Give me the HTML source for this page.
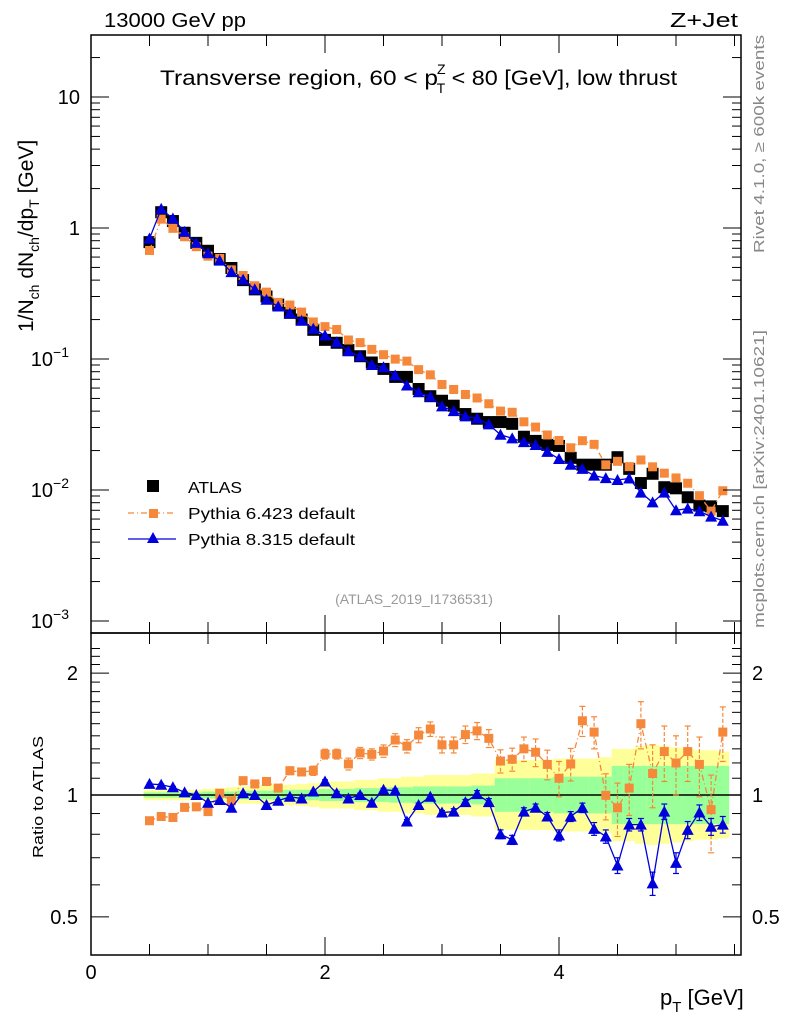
<!DOCTYPE html>
<html><head><meta charset="utf-8">
<style>
html,body{margin:0;padding:0;background:#fff;}
svg{display:block;font-family:"Liberation Sans","DejaVu Sans",sans-serif;}
</style></head>
<body>
<svg id="chart" width="786" height="1024" viewBox="0 0 786 1024" xmlns="http://www.w3.org/2000/svg">
<rect x="0" y="0" width="786" height="1024" fill="#fff"/>
<g id="ratio-bands"></g>
<g id="main-marks"></g>
<g id="ratio-marks"></g>
<g id="axes"></g>
<text x="104" y="27" font-size="20" textLength="142" lengthAdjust="spacingAndGlyphs">13000 GeV pp</text>
<text x="670" y="27" font-size="20" textLength="68" lengthAdjust="spacingAndGlyphs">Z+Jet</text>
<text x="160" y="85" font-size="21"><tspan textLength="278" lengthAdjust="spacingAndGlyphs">Transverse region, 60 &lt; p</tspan><tspan font-size="14" dx="-1" dy="-11">Z</tspan><tspan font-size="14" dx="-9" dy="19">T</tspan><tspan dy="-8" textLength="232" lengthAdjust="spacingAndGlyphs"> &lt; 80 [GeV], low thrust</tspan></text>
<text transform="translate(33,332) rotate(-90)" font-size="21">1/N<tspan font-size="14" dy="6">ch</tspan><tspan dy="-6"> dN</tspan><tspan font-size="14" dy="6">ch</tspan><tspan dy="-6">/dp</tspan><tspan font-size="14" dy="6">T</tspan><tspan dy="-6"> [GeV]</tspan></text>
<text transform="translate(43,858) rotate(-90)" font-size="15" textLength="122" lengthAdjust="spacingAndGlyphs">Ratio to ATLAS</text>
<text x="660" y="1005" font-size="22">p<tspan font-size="15" dy="7">T</tspan><tspan dy="-7"> [GeV]</tspan></text>
<text transform="translate(764,253) rotate(-90)" font-size="15" fill="#888" textLength="218" lengthAdjust="spacingAndGlyphs">Rivet 4.1.0, ≥ 600k events</text>
<text transform="translate(764,628) rotate(-90)" font-size="15" fill="#888" textLength="298" lengthAdjust="spacingAndGlyphs">mcplots.cern.ch [arXiv:2401.10621]</text>
<text x="414" y="604" font-size="14" fill="#999" text-anchor="middle">(ATLAS_2019_I1736531)</text>
<g id="legend">
  <rect x="147" y="480" width="12" height="12" fill="#000"/>
  <text x="188" y="493" font-size="16" textLength="54" lengthAdjust="spacingAndGlyphs">ATLAS</text>
  <line x1="128" y1="513" x2="176" y2="513" stroke="#f5883a" stroke-width="1.3" stroke-dasharray="6,3,1,3"/>
  <rect x="149" y="509" width="9" height="9" fill="#f5883a"/>
  <text x="188" y="519" font-size="16" textLength="167" lengthAdjust="spacingAndGlyphs">Pythia 6.423 default</text>
  <line x1="128" y1="539" x2="176" y2="539" stroke="#0000dd" stroke-width="1.3"/>
  <polygon points="153,532 159,543 147,543" fill="#0000dd"/>
  <text x="188" y="545" font-size="16" textLength="167" lengthAdjust="spacingAndGlyphs">Pythia 8.315 default</text>
</g>
</svg>
<script>
const xVals = [0.5,0.6,0.7,0.8,0.9,1.0,1.1,1.2,1.3,1.4,1.5,1.6,1.7,1.8,1.9,2.0,2.1,2.2,2.3,2.4,2.5,2.6,2.7,2.8,2.9,3.0,3.1,3.2,3.3,3.4,3.5,3.6,3.7,3.8,3.9,4.0,4.1,4.2,4.3,4.4,4.5,4.6,4.7,4.8,4.9,5.0,5.1,5.2,5.3,5.4];
const atlasVals = [0.78,1.32,1.13,0.92,0.77,0.67,0.58,0.495,0.40,0.34,0.30,0.26,0.225,0.20,0.167,0.14,0.133,0.117,0.105,0.094,0.084,0.073,0.073,0.059,0.052,0.048,0.044,0.038,0.035,0.033,0.033,0.032,0.0255,0.0237,0.0221,0.0217,0.0176,0.0156,0.0156,0.0156,0.0178,0.0145,0.0113,0.0133,0.0105,0.0103,0.0088,0.0076,0.0075,0.0069];
const py6Ratio = [0.864,0.885,0.88,0.932,0.935,0.91,1.01,0.968,1.085,1.065,1.08,1.04,1.148,1.14,1.148,1.262,1.262,1.193,1.27,1.26,1.284,1.367,1.32,1.406,1.455,1.33,1.33,1.41,1.44,1.38,1.213,1.225,1.30,1.275,1.19,1.10,1.193,1.525,1.43,0.998,0.93,1.04,1.50,1.13,1.28,1.20,1.28,1.19,0.92,1.43];
const py8Ratio = [1.065,1.06,1.045,1.015,1.0,0.957,0.972,0.93,1.01,1.0,0.945,0.968,0.99,0.98,1.02,1.08,1.01,0.98,1.0,0.957,1.03,1.025,0.86,0.945,0.99,0.905,0.91,0.96,1.005,0.96,0.80,0.775,0.91,0.93,0.885,0.795,0.885,0.93,0.825,0.79,0.67,0.845,0.845,0.605,0.91,0.68,0.82,0.905,0.835,0.845];
const statBand = [0.015,0.015,0.015,0.015,0.015,0.02,0.02,0.02,0.025,0.025,0.025,0.03,0.03,0.03,0.03,0.035,0.035,0.035,0.04,0.04,0.04,0.045,0.045,0.05,0.05,0.05,0.05,0.05,0.055,0.055,0.1,0.1,0.1,0.1,0.1,0.11,0.11,0.11,0.11,0.11,0.18,0.18,0.18,0.18,0.18,0.18,0.18,0.18,0.18,0.18];
const totBand = [0.03,0.03,0.03,0.03,0.03,0.035,0.04,0.045,0.05,0.05,0.06,0.06,0.06,0.065,0.07,0.08,0.08,0.08,0.09,0.09,0.1,0.1,0.11,0.11,0.12,0.12,0.12,0.12,0.13,0.13,0.22,0.22,0.22,0.22,0.22,0.23,0.23,0.23,0.23,0.24,0.3,0.3,0.32,0.33,0.32,0.31,0.3,0.29,0.29,0.28];
const py6Err = [0.01,0.01,0.01,0.01,0.01,0.01,0.01,0.015,0.02,0.02,0.02,0.02,0.025,0.025,0.03,0.035,0.035,0.04,0.04,0.04,0.045,0.05,0.05,0.06,0.06,0.06,0.06,0.07,0.07,0.07,0.08,0.08,0.09,0.1,0.1,0.11,0.11,0.13,0.13,0.13,0.14,0.15,0.2,0.2,0.2,0.2,0.2,0.2,0.2,0.22];
const py8Err = [0.005,0.005,0.005,0.005,0.005,0.005,0.005,0.005,0.005,0.005,0.005,0.005,0.005,0.005,0.005,0.01,0.01,0.01,0.01,0.01,0.01,0.01,0.01,0.01,0.01,0.01,0.015,0.015,0.02,0.02,0.02,0.02,0.02,0.02,0.02,0.025,0.025,0.025,0.03,0.03,0.03,0.03,0.03,0.04,0.04,0.04,0.04,0.04,0.04,0.04];
const xTicks = [0,2,4];
const ratioTicks = [0.5,1,2];

const NS='http://www.w3.org/2000/svg';
const L=91,R=741,T=35,MB=633,RB=955;
const xs=v=>L+v*117;
const ym=v=>228-131*Math.log10(v);
const yr=v=>795-405*Math.log10(v);
function mk(tag,attrs,parent){const e=document.createElementNS(NS,tag);for(const k in attrs)e.setAttribute(k,attrs[k]);parent.appendChild(e);return e;}
const gB=document.getElementById('ratio-bands'),gM=document.getElementById('main-marks'),gR=document.getElementById('ratio-marks'),gA=document.getElementById('axes');
const O='#f5883a',B='#0000dd',hw=5.85;

xVals.forEach((x,i)=>{
  const up1=yr(1+totBand[i]),dn1=yr(1/(1+totBand[i]));
  const y1=mk('rect',{x:xs(x)-hw,width:2*hw+0.5,y:up1,height:dn1-up1,fill:'#ffff99'},gB);
  
  
  const up2=yr(1+statBand[i]),dn2=yr(1/(1+statBand[i]));
  const y2=mk('rect',{x:xs(x)-hw,width:2*hw+0.5,y:up2,height:dn2-up2,fill:'#99ff99'},gB);
  
  
});
const ref=mk('line',{x1:L,x2:R,y1:yr(1),y2:yr(1),stroke:'#000','stroke-width':1.5},gB);



function series(g,ys,vals,color,dash,shape,name,errs){
  const pts=xVals.map((x,i)=>xs(x)+','+ys(vals[i])).join(' ');
  const pl=mk('polyline',{points:pts,fill:'none',stroke:color,'stroke-width':1.3},g);
  if(dash)pl.setAttribute('stroke-dasharray',dash);
  
  
  xVals.forEach((x,i)=>{
    const cx=xs(x),cy=ys(vals[i]);
    if(errs){
      const a=yr(vals[i]+errs[i]),b=yr(vals[i]-errs[i]);
      const e=mk('line',{x1:cx,x2:cx,y1:a,y2:b,stroke:color,'stroke-width':1.2},g);
      if(dash)e.setAttribute('stroke-dasharray','4,2');
      
      
      mk('line',{x1:cx-3,x2:cx+3,y1:a,y2:a,stroke:color,'stroke-width':1.2},g);
      mk('line',{x1:cx-3,x2:cx+3,y1:b,y2:b,stroke:color,'stroke-width':1.2},g);
    }
    let m;
    if(shape==='sq') m=mk('rect',{x:cx-4.5,y:cy-4.5,width:9,height:9,fill:color},g);
    else m=mk('polygon',{points:`${cx},${cy-6} ${cx+6},${cy+5} ${cx-6},${cy+5}`,fill:color},g);
    
    
  });
}
xVals.forEach((x,i)=>{
  const m=mk('rect',{x:xs(x)-6,y:ym(atlasVals[i])-6,width:12,height:12,fill:'#000'},gM);
  
  
});
const py6Main=atlasVals.map((v,i)=>v*py6Ratio[i]);
const py8Main=atlasVals.map((v,i)=>v*py8Ratio[i]);
series(gM,ym,py6Main,O,'6,3,1,3','sq','pythia6-main');
series(gM,ym,py8Main,B,null,'tri','pythia8-main');
series(gR,yr,py6Ratio,O,'6,3,1,3','sq','pythia6-ratio',py6Err);
series(gR,yr,py8Ratio,B,null,'tri','pythia8-ratio',py8Err);

[[T,MB],[MB,RB]].forEach(([a,b],k)=>{
  const f=mk('rect',{x:L,y:a,width:R-L,height:b-a,fill:'none',stroke:'#000','stroke-width':1.5},gA);
  
  
});
for(let v=0;v<=5.5001;v+=0.5){
  const major=xTicks.includes(Math.round(v*10)/10);
  const len=major?18:11;
  [[T,1],[MB,-1],[MB,1],[RB,-1]].forEach(([y0,d])=>{
    mk('line',{x1:xs(v),x2:xs(v),y1:y0,y2:y0+d*len,stroke:'#000','stroke-width':1},gA);
  });
}
xTicks.forEach(v=>{
  const t=mk('text',{x:xs(v),y:979,'font-size':20,'text-anchor':'middle'},gA);
  t.textContent=v;
  
  
});
for(let d=-3;d<=1;d++){
  for(let m=1;m<10;m++){
    const v=m*Math.pow(10,d),y=ym(v);
    if(y<T||y>MB)continue;
    const len=m===1?18:9;
    mk('line',{x1:L,x2:L+len,y1:y,y2:y,stroke:'#000','stroke-width':1},gA);
    mk('line',{x1:R,x2:R-len,y1:y,y2:y,stroke:'#000','stroke-width':1},gA);
  }
  const t=mk('text',{x:80,y:ym(Math.pow(10,d))+7,'font-size':20,'text-anchor':'end'},gA);
  
  
  if(d===0)t.textContent='1';
  else if(d===1)t.textContent='10';
  else{t.setAttribute('x',69);t.textContent='10';const s=mk('tspan',{'font-size':14,dy:-9},t);s.textContent='−'+(-d);}
}
for(let v=0.4;v<=2.35;v+=0.1){
  const y=yr(v);if(y<MB||y>RB)continue;
  const vv=Math.round(v*10)/10;
  const len=ratioTicks.includes(vv)?18:9;
  mk('line',{x1:L,x2:L+len,y1:y,y2:y,stroke:'#000','stroke-width':1},gA);
  mk('line',{x1:R,x2:R-len,y1:y,y2:y,stroke:'#000','stroke-width':1},gA);
}
ratioTicks.forEach(v=>{
  const t1=mk('text',{x:78,y:yr(v)+7,'font-size':20,'text-anchor':'end'},gA);
  t1.textContent=v;
  
  
  const t2=mk('text',{x:752,y:yr(v)+7,'font-size':20},gA);
  t2.textContent=v;
  
  
});
</script>
</body></html>
